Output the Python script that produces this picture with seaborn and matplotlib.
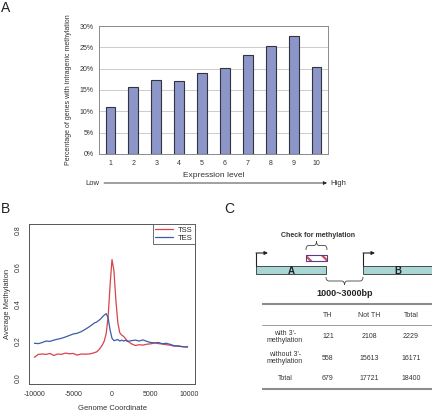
import numpy as np
import pandas as pd
import matplotlib
matplotlib.use("Agg")
import matplotlib.pyplot as plt
import seaborn as sns
from matplotlib.patches import Rectangle, PathPatch
from matplotlib.path import Path

###
# DATA
###

# panel A: % genes with intragenic methylation per expression decile
expression_level = ['1', '2', '3', '4', '5', '6', '7', '8', '9', '10']
pct_methylated = [11.0, 15.7, 17.4, 17.1, 18.9, 20.2, 23.1, 25.2, 27.7, 20.3]

# panel B: average methylation around TSS / TES
genome_coord = [-10000, -9500, -9000, -8500, -8000, -7500, -7000, -6500, -6000, -5500,
                -5000, -4500, -4000, -3500, -3000, -2500, -2250, -2000, -1750, -1500,
                -1250, -1000, -750, -500, -250, 0, 250, 500, 750, 1000,
                1250, 1500, 1750, 2000, 2500, 3000, 3500, 4000, 4500, 5000,
                5500, 6000, 6500, 7000, 7500, 8000, 8500, 9000, 9500, 9750]
tss_meth = [0.112, 0.128, 0.130, 0.128, 0.133, 0.122, 0.130, 0.128, 0.135, 0.131,
            0.133, 0.124, 0.130, 0.129, 0.130, 0.134, 0.138, 0.141, 0.150, 0.163,
            0.178, 0.200, 0.240, 0.330, 0.500, 0.640, 0.580, 0.420, 0.300, 0.245,
            0.232, 0.225, 0.212, 0.200, 0.185, 0.176, 0.180, 0.178, 0.183, 0.185,
            0.190, 0.186, 0.184, 0.180, 0.178, 0.172, 0.175, 0.170, 0.168, 0.170]
tes_meth = [0.188, 0.186, 0.192, 0.200, 0.198, 0.205, 0.210, 0.215, 0.222, 0.230,
            0.238, 0.242, 0.250, 0.262, 0.275, 0.290, 0.298, 0.302, 0.310, 0.318,
            0.330, 0.340, 0.348, 0.325, 0.260, 0.215, 0.202, 0.205, 0.208, 0.200,
            0.205, 0.200, 0.204, 0.198, 0.202, 0.205, 0.200, 0.206, 0.198, 0.192,
            0.190, 0.192, 0.185, 0.188, 0.182, 0.175, 0.172, 0.170, 0.168, 0.168]

# panel C: contingency table
table_cols = ['TH', 'Not TH', 'Total']
table_rows = ["with 3'-\nmethylation", "without 3'-\nmethylation", 'Total']
table_vals = [[121, 2108, 2229],
              [558, 15613, 16171],
              [679, 17721, 18400]]

###
# FIGURE
###
sns.set_style('white')
plt.rcParams['font.family'] = ['Liberation Sans', 'DejaVu Sans']
plt.rcParams['hatch.linewidth'] = 1.6
plt.rcParams['axes.unicode_minus'] = False  # R style "-10000"

W, H = 432, 412
fig = plt.figure(figsize=(W / 100, H / 100), dpi=100)


def px_axes(l, t, r, b):
    return fig.add_axes([l / W, 1 - b / H, (r - l) / W, (b - t) / H])


txt_col = '#333333'

###
# PANEL A: barplot
###
axA = px_axes(99, 26, 328, 154)
dfA = pd.DataFrame({'level': expression_level, 'pct': pct_methylated})
sns.barplot(data=dfA, x='level', y='pct', color='#8c96c8', saturation=1, width=0.43,
            edgecolor='#34343e', linewidth=0.8, ax=axA, zorder=3)
axA.set_xlim(-0.5, 9.5)
axA.set_ylim(0, 30)
axA.set_yticks(range(0, 31, 5))
axA.set_yticklabels([f'{v}%' for v in range(0, 31, 5)])
axA.yaxis.grid(True, color='#c4c4c4', lw=0.6)
axA.set_axisbelow(True)
for s in axA.spines.values():
    s.set_color('#8a8a8a')
    s.set_linewidth(0.7)
axA.set_xticks(np.arange(-0.5, 10, 1), minor=True)
axA.tick_params(axis='x', which='major', length=0, pad=4)
axA.tick_params(axis='x', which='minor', length=2.5, color='#8a8a8a', width=0.6)
axA.tick_params(axis='y', length=2.5, color='#8a8a8a', width=0.6, pad=1.5)
axA.tick_params(labelsize=5, labelcolor=txt_col)
axA.set_xlabel('Expression level', fontsize=6, color=txt_col, labelpad=4)
axA.set_ylabel('Percentage of genes with intragenic methylation', fontsize=5,
               color=txt_col, labelpad=5)

###
# PANEL B: methylation profile
###
axB = px_axes(29, 224, 195, 384)
n = len(genome_coord)
dfB = pd.DataFrame({'coord': genome_coord * 2,
                    'meth': tss_meth + tes_meth,
                    'mark': ['TSS'] * n + ['TES'] * n})
sns.lineplot(data=dfB, x='coord', y='meth', hue='mark', estimator=None,
             palette={'TSS': '#d9434b', 'TES': '#3c5ca6'}, lw=0.9, ax=axB)
axB.set_xlim(-10700, 10700)
axB.set_ylim(-0.032, 0.832)
axB.set_xticks([-10000, -5000, 0, 5000, 10000])
axB.set_yticks([0, 0.2, 0.4, 0.6, 0.8])
axB.set_yticklabels(['0.0', '0.2', '0.4', '0.6', '0.8'], rotation=90, va='center')
for s in axB.spines.values():
    s.set_color('#555555')
    s.set_linewidth(0.7)
axB.tick_params(length=3, width=0.6, color='#555555', labelsize=5, labelcolor=txt_col, pad=2)
axB.set_xlabel('Genome Coordinate', fontsize=5.5, color=txt_col, labelpad=5)
axB.set_ylabel('Average Methylation', fontsize=5.5, color=txt_col, labelpad=3)
leg = axB.legend(loc='upper right', frameon=True, fancybox=False, borderaxespad=0,
                 fontsize=5.5, handlelength=2.4, edgecolor='#555555', framealpha=1,
                 borderpad=0.3, labelspacing=0.1, handletextpad=0.6)
leg.get_frame().set_linewidth(0.6)

###
# OVERLAY: panel letters, Low/High arrow, panel C diagram and table
###
ov = fig.add_axes([0, 0, 1, 1])
ov.set_xlim(0, W)
ov.set_ylim(H, 0)
ov.axis('off')
ov.patch.set_alpha(0)

for lab, x, y in [('A', 6, 8), ('B', 6, 209), ('C', 229, 209)]:
    ov.text(x, y, lab, fontsize=10, color='#222222', ha='center', va='center')

# Low -> High
ov.text(85, 183, 'Low', fontsize=5.5, color=txt_col, va='center')
ov.text(330, 183, 'High', fontsize=5.5, color=txt_col, va='center')
ov.annotate('', xy=(327, 183), xytext=(104, 183),
            arrowprops=dict(arrowstyle='-|>', lw=0.6, color='#222222', mutation_scale=5,
                            shrinkA=0, shrinkB=0))


def brace(ax, x0, x1, y_base, y_tip, r=3):
    xm = (x0 + x1) / 2
    ym = (y_base + y_tip) / 2
    verts = [(x0, y_base), (x0, ym), (x0 + r, ym), (xm - r, ym), (xm, ym), (xm, y_tip),
             (xm, y_tip), (xm, ym), (xm + r, ym), (x1 - r, ym), (x1, ym), (x1, y_base)]
    codes = [Path.MOVETO, Path.CURVE3, Path.CURVE3, Path.LINETO, Path.CURVE3, Path.CURVE3,
             Path.MOVETO, Path.CURVE3, Path.CURVE3, Path.LINETO, Path.CURVE3, Path.CURVE3]
    ax.add_patch(PathPatch(Path(verts, codes), fc='none', ec='#444444', lw=0.6))


# gene boxes
gene_col = '#a7d6d5'
for x0, lab in [(256, 'A'), (363, 'B')]:
    ov.add_patch(Rectangle((x0, 266), 70, 8, fc=gene_col, ec='#333333', lw=0.6, clip_on=False))
    ov.text(x0 + 35, 270.5, lab, fontsize=7, fontweight='bold', color='#222222',
            ha='center', va='center')
    ov.plot([x0, x0], [266, 253], color='#222222', lw=0.8)
    ov.annotate('', xy=(x0 + 12, 253), xytext=(x0, 253),
                arrowprops=dict(arrowstyle='-|>', lw=0.8, color='#222222', mutation_scale=5,
                                shrinkA=0, shrinkB=0))

# methylation check region
ov.add_patch(Rectangle((306, 255), 21, 6, fc='white', ec='#d84a5a', lw=0, hatch='\\\\'))
ov.add_patch(Rectangle((306, 255), 21, 6, fill=False, ec='#5b3a8c', lw=0.8))
brace(ov, 306, 327, 250, 241, r=2.5)
ov.text(318, 235, 'Check for methylation', fontsize=5, fontweight='bold', color=txt_col,
        ha='center', va='center')
brace(ov, 326, 363, 277, 285, r=3)
ov.text(345, 293, '1000~3000bp', fontsize=6.5, fontweight='bold', color='#222222',
        ha='center', va='center')

# table
col_x = [328, 369, 411]
row_y = [337, 358, 379]
ov.plot([262, 432], [304, 304], color='#8c8c8c', lw=1.5, solid_capstyle='butt')
ov.plot([262, 432], [325, 325], color='#8c8c8c', lw=0.6)
ov.plot([262, 432], [389, 389], color='#8c8c8c', lw=1.5, solid_capstyle='butt')
for cx, name in zip(col_x, table_cols):
    ov.text(cx, 315.5, name, fontsize=5, color=txt_col, ha='center', va='center')
for ry, rname, vals in zip(row_y, table_rows, table_vals):
    ov.text(285, ry, rname, fontsize=5, color=txt_col, ha='center', va='center',
            linespacing=1.15)
    for cx, v in zip(col_x, vals):
        ov.text(cx, ry, str(v), fontsize=5, color=txt_col, ha='center', va='center')

fig.savefig('out.png', dpi=100)
